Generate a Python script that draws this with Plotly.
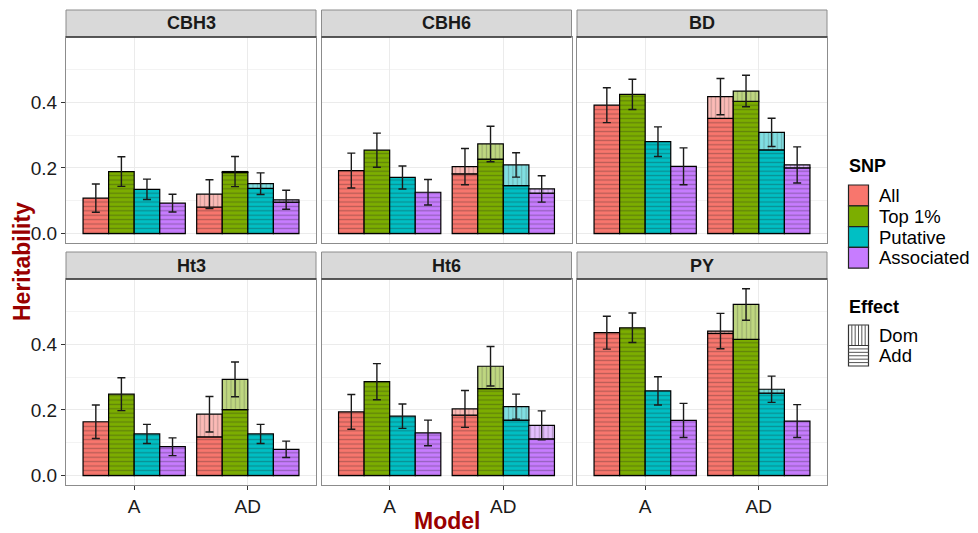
import plotly.graph_objects as go

# ---------------- data ----------------
traits = ["CBH3", "CBH6", "BD", "Ht3", "Ht6", "PY"]
models = ["A", "AD"]
snps = ["All", "Top 1%", "Putative", "Associated"]
snp_colors = ["#F8766D", "#7CAE00", "#00BFC4", "#C77CFF"]
dom_colors = ["#FCBAB6", "#BED780", "#80DFE2", "#E3BEFF"]
effects = ["Dom", "Add"]
y_ticks = [0.0, 0.2, 0.4]
y_tick_text = ["0.0", "0.2", "0.4"]

# total heritability, model A  [trait][snp]
h_A = [
    [0.108, 0.189, 0.135, 0.093],
    [0.192, 0.254, 0.171, 0.126],
    [0.391, 0.424, 0.280, 0.205],
    [0.164, 0.248, 0.127, 0.088],
    [0.194, 0.286, 0.181, 0.130],
    [0.435, 0.450, 0.258, 0.168],
]
# total heritability, model AD (additive + dominance)
h_AD = [
    [0.120, 0.189, 0.152, 0.103],
    [0.204, 0.273, 0.209, 0.136],
    [0.417, 0.434, 0.308, 0.209],
    [0.187, 0.293, 0.127, 0.080],
    [0.203, 0.333, 0.210, 0.153],
    [0.440, 0.521, 0.263, 0.166],
]
# additive part in model AD
add_AD = [
    [0.081, 0.186, 0.138, 0.096],
    [0.182, 0.227, 0.146, 0.123],
    [0.351, 0.403, 0.255, 0.200],
    [0.118, 0.201, 0.127, 0.080],
    [0.184, 0.265, 0.169, 0.112],
    [0.433, 0.415, 0.251, 0.166],
]
# standard errors
se_A = [
    [0.043, 0.045, 0.031, 0.027],
    [0.053, 0.052, 0.035, 0.039],
    [0.053, 0.046, 0.045, 0.056],
    [0.051, 0.050, 0.029, 0.027],
    [0.053, 0.055, 0.037, 0.039],
    [0.050, 0.045, 0.043, 0.052],
]
se_AD = [
    [0.044, 0.046, 0.033, 0.029],
    [0.055, 0.054, 0.037, 0.040],
    [0.055, 0.048, 0.043, 0.055],
    [0.054, 0.053, 0.029, 0.025],
    [0.056, 0.060, 0.038, 0.044],
    [0.054, 0.048, 0.040, 0.050],
]

# ---------------- layout helpers ----------------
# the page body has an 8px margin, so the figure is drawn 8px in from the
# top-left corner; all pixel coordinates below are in window pixels.
OFF = 8
WIN_W, WIN_H = 978, 533
W, H = WIN_W - OFF, WIN_H - OFF
ML, MR, MT, MB = 66 - OFF, 151, 10 - OFF, 48
PW, PH = W - ML - MR, H - MT - MB


def PX(px):
    return (px - OFF - ML) / PW


def PY(py):
    return (H - MB - (py - OFF)) / PH


FONT = "Arial, Liberation Sans, sans-serif"
col_px = [(66, 316), (321.5, 571.5), (577, 827)]
row_px = [(37, 243), (279, 485)]      # panel top/bottom
strip_px = [(10, 37), (252, 279)]     # strip top/bottom

fig = go.Figure()
layout_axes = {}
shapes = []
annotations = []

for k, trait in enumerate(traits):
    r, c = divmod(k, 3)
    xa = "x" if k == 0 else f"x{k+1}"
    ya = "y" if k == 0 else f"y{k+1}"
    for j, snp in enumerate(snps):
        # additive (or full A) bar
        fig.add_trace(go.Bar(
            x=models, y=[h_A[k][j], add_AD[k][j]],
            offsetgroup=snp, xaxis=xa, yaxis=ya, showlegend=False,
            marker=dict(color=snp_colors[j],
                        line=dict(color="black", width=1.2),
                        pattern=dict(shape="-", fgcolor="rgba(30,30,30,0.6)",
                                     bgcolor=snp_colors[j], size=4.4, solidity=0.3)),
            hoverinfo="skip"))
        # dominance part stacked on the additive part
        dom = h_AD[k][j] - add_AD[k][j]
        if dom > 0.0005:
            fig.add_trace(go.Bar(
                x=["AD"], y=[dom], base=[add_AD[k][j]],
                offsetgroup=snp, xaxis=xa, yaxis=ya, showlegend=False,
                marker=dict(color=dom_colors[j],
                            line=dict(color="black", width=1.2),
                            pattern=dict(shape="|", fgcolor="rgba(60,60,60,0.55)",
                                         bgcolor=dom_colors[j], size=4.4, solidity=0.28)),
                hoverinfo="skip"))
        # error bars on totals
        fig.add_trace(go.Bar(
            x=models, y=[h_A[k][j], h_AD[k][j]],
            offsetgroup=snp, xaxis=xa, yaxis=ya, showlegend=False,
            marker=dict(color="rgba(0,0,0,0)", line=dict(width=0)),
            error_y=dict(type="data", array=[se_A[k][j], se_AD[k][j]],
                         color="#1a1a1a", thickness=1.4, width=4),
            hoverinfo="skip"))

    x0, x1 = PX(col_px[c][0]), PX(col_px[c][1])
    y0, y1 = PY(row_px[r][1]), PY(row_px[r][0])
    xkey = "xaxis" if k == 0 else f"xaxis{k+1}"
    ykey = "yaxis" if k == 0 else f"yaxis{k+1}"
    layout_axes[xkey] = dict(
        domain=[x0, x1], anchor=ya, range=[-0.6, 1.6], type="category",
        showgrid=True, gridcolor="#EBEBEB", gridwidth=1.1,
        showline=True, mirror=True, linecolor="#8C8C8C", linewidth=1,
        ticks="outside" if r == 1 else "", ticklen=4, tickcolor="#333333",
        showticklabels=(r == 1),
        tickfont=dict(family=FONT, size=19, color="#1a1a1a"),
        fixedrange=True)
    layout_axes[ykey] = dict(
        domain=[y0, y1], anchor=xa, range=[-0.0285, 0.5985],
        tickvals=y_ticks, ticktext=y_tick_text,
        showgrid=True, gridcolor="#EBEBEB", gridwidth=1.1, zeroline=False,
        minor=dict(showgrid=True, gridcolor="#F3F3F3", gridwidth=0.6,
                   tickvals=[0.1, 0.3, 0.5], ticks=""),
        showline=True, mirror=True, linecolor="#8C8C8C", linewidth=1,
        ticks="outside" if c == 0 else "", ticklen=4, tickcolor="#333333",
        showticklabels=(c == 0),
        tickfont=dict(family=FONT, size=19, color="#1a1a1a"),
        fixedrange=True)

    # strip
    sy0, sy1 = PY(strip_px[r][1]), PY(strip_px[r][0])
    shapes.append(dict(type="rect", xref="paper", yref="paper",
                       x0=x0, x1=x1, y0=sy0, y1=sy1,
                       fillcolor="#D9D9D9", line=dict(color="#8C8C8C", width=1),
                       layer="above"))
    shapes.append(dict(type="line", xref="paper", yref="paper",
                       x0=x0, x1=x1, y0=sy0, y1=sy0,
                       line=dict(color="#333333", width=1.3), layer="above"))
    annotations.append(dict(text=f"<b>{trait}</b>", xref="paper", yref="paper",
                            x=(x0 + x1) / 2, y=(sy0 + sy1) / 2,
                            xanchor="center", yanchor="middle", showarrow=False,
                            font=dict(family=FONT, size=18, color="#1a1a1a")))

# axis titles
annotations.append(dict(text="<b>Heritability</b>", xref="paper", yref="paper",
                        x=PX(22), y=PY(262), textangle=-90, showarrow=False,
                        xanchor="center", yanchor="middle",
                        font=dict(family=FONT, size=23, color="#990000")))
annotations.append(dict(text="<b>Model</b>", xref="paper", yref="paper",
                        x=PX(446.5), y=PY(521), showarrow=False,
                        xanchor="center", yanchor="middle",
                        font=dict(family=FONT, size=23, color="#990000")))

# ---------------- legends (drawn) ----------------
kx0, kx1 = 848.5, 868.5
annotations.append(dict(text="<b>SNP</b>", xref="paper", yref="paper",
                        x=PX(847), y=PY(166), xanchor="left", yanchor="middle",
                        showarrow=False, font=dict(family=FONT, size=18, color="black")))
for j, snp in enumerate(snps):
    ty, by = 185 + 20.8 * j, 185 + 20.8 * (j + 1)
    shapes.append(dict(type="rect", xref="paper", yref="paper",
                       x0=PX(kx0), x1=PX(kx1), y0=PY(by), y1=PY(ty),
                       fillcolor=snp_colors[j], line=dict(color="#222222", width=1.2)))
    annotations.append(dict(text=snp, xref="paper", yref="paper",
                            x=PX(877), y=PY((ty + by) / 2), xanchor="left",
                            yanchor="middle", showarrow=False,
                            font=dict(family=FONT, size=18.5, color="black")))

annotations.append(dict(text="<b>Effect</b>", xref="paper", yref="paper",
                        x=PX(847), y=PY(306.5), xanchor="left", yanchor="middle",
                        showarrow=False, font=dict(family=FONT, size=18, color="black")))
for j, eff in enumerate(effects):
    ty, by = 325 + 20.5 * j, 325 + 20.5 * (j + 1)
    shapes.append(dict(type="rect", xref="paper", yref="paper",
                       x0=PX(kx0), x1=PX(kx1), y0=PY(by), y1=PY(ty),
                       fillcolor="white", line=dict(color="#333333", width=1.2)))
    n = 6
    for i in range(1, n):
        if eff == "Dom":
            xx = kx0 + (kx1 - kx0) * i / n
            shapes.append(dict(type="line", xref="paper", yref="paper",
                               x0=PX(xx), x1=PX(xx), y0=PY(by), y1=PY(ty),
                               line=dict(color="#555555", width=1)))
        else:
            yy = ty + (by - ty) * i / n
            shapes.append(dict(type="line", xref="paper", yref="paper",
                               x0=PX(kx0), x1=PX(kx1), y0=PY(yy), y1=PY(yy),
                               line=dict(color="#555555", width=1)))
    annotations.append(dict(text=eff, xref="paper", yref="paper",
                            x=PX(877), y=PY((ty + by) / 2), xanchor="left",
                            yanchor="middle", showarrow=False,
                            font=dict(family=FONT, size=18.5, color="black")))

fig.update_layout(
    width=W, height=H, margin=dict(l=ML, r=MR, t=MT, b=MB),
    paper_bgcolor="white", plot_bgcolor="white",
    barmode="group", bargap=0.1, bargroupgap=0.0,
    showlegend=False, shapes=shapes, annotations=annotations,
    font=dict(family=FONT), **layout_axes)

fig.write_html("out.html")
